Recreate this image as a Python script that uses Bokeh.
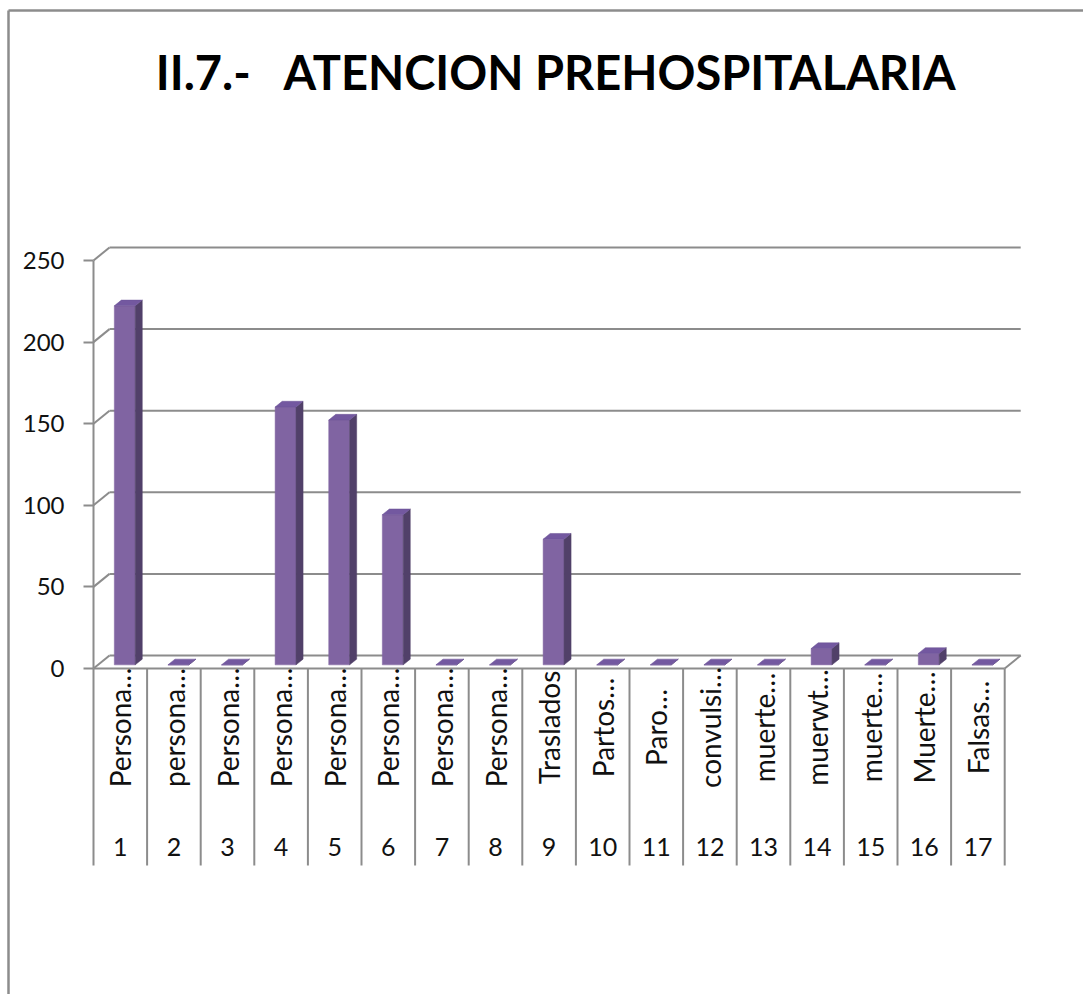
import numpy as np
from bokeh.plotting import figure
from bokeh.models import Range1d, FixedTicker
from bokeh.core.properties import value
from bokeh.embed import file_html
from bokeh.resources import INLINE

# ---------------- data ----------------
title_text = "II.7.-  ATENCION PREHOSPITALARIA"
category_names = ["Persona…", "persona…", "Persona…", "Persona…", "Persona…",
                  "Persona…", "Persona…", "Persona…", "Traslados", "Partos…",
                  "Paro…", "convulsi…", "muerte…", "muerwt…", "muerte…",
                  "Muerte…", "Falsas…"]
category_numbers = ["1", "2", "3", "4", "5", "6", "7", "8", "9", "10",
                    "11", "12", "13", "14", "15", "16", "17"]
values = [220, 0, 0, 158, 150, 92, 0, 0, 77, 0, 0, 0, 0, 10, 0, 7, 0]
y_ticks = [0, 50, 100, 150, 200, 250]

# ---------------- layout (pixels) ----------------
FIG_W, FIG_H = 1083, 994
PX_X = 53.6          # px per category
PX_Y = 1.632         # px per value unit
X0_PAGE = 93         # page x of category boundary 0.5
Y0_PAGE = 668        # page y of value 0 (front)

def xd(px):
    return 0.5 + (px - X0_PAGE) / PX_X

def yd(py):
    return (Y0_PAGE - py) / PX_Y

GRID = "#8c8c8c"
FRONT = "#8064A2"
TOP = "#7358A0"
SIDE = "#514069"
FONT = "Lato"

# depth of the 3D box
DX = 16 / PX_X
DY = 13 / PX_Y
T0, T1 = 0.28, 0.72   # bar depth span (fraction of box depth)
BAR_W = 0.39

n = len(values)
x_lo, x_hi = 0.5, n + 0.5
ymax = max(y_ticks)

p = figure(width=FIG_W, height=FIG_H, output_backend="svg", toolbar_location=None,
           x_axis_type=None,
           x_range=Range1d(xd(0), xd(FIG_W)),
           y_range=Range1d(yd(FIG_H), yd(0)),
           min_border_left=0, min_border_right=0, min_border_top=0,
           min_border_bottom=0)
p.outline_line_color = None
p.grid.visible = False
p.background_fill_color = "white"
p.border_fill_color = "white"

# y axis, drawn inside the frame at the front-left edge of the 3D box
ya = p.yaxis[0]
ya.fixed_location = x_lo
ya.ticker = FixedTicker(ticks=y_ticks)
ya.axis_line_color = None
ya.major_tick_out = 10
ya.major_tick_in = 0
ya.minor_tick_out = 0
ya.minor_tick_in = 0
ya.major_tick_line_color = GRID
ya.major_tick_line_width = 2
ya.major_label_text_font = FONT
ya.major_label_text_font_size = "24px"
ya.major_label_text_color = "#111111"
ya.major_label_standoff = 19

# chart border (left and top)
p.segment(x0=[xd(8), xd(8)], y0=[yd(10), yd(10)],
          x1=[xd(8), xd(FIG_W + 20)], y1=[yd(FIG_H + 20), yd(10)],
          line_color=GRID, line_width=2.5)

# back wall gridlines and left wall diagonals
p.segment(x0=[x_lo + DX] * len(y_ticks), y0=[t + DY for t in y_ticks],
          x1=[x_hi + DX] * len(y_ticks), y1=[t + DY for t in y_ticks],
          line_color=GRID, line_width=2)
p.segment(x0=[x_lo] * len(y_ticks), y0=y_ticks,
          x1=[x_lo + DX] * len(y_ticks), y1=[t + DY for t in y_ticks],
          line_color=GRID, line_width=2)
# floor front edge, right edge, front axis line
p.segment(x0=[x_lo, x_hi, x_lo], y0=[0, 0, 0],
          x1=[x_hi, x_hi + DX, x_lo], y1=[0, DY, ymax],
          line_color=GRID, line_width=2)

# category separators (label table)
sep_x = [x_lo + k for k in range(n + 1)]
p.segment(x0=sep_x, y0=[0] * len(sep_x), x1=sep_x, y1=[yd(865)] * len(sep_x),
          line_color=GRID, line_width=2)

# bars (3D)
xs = np.arange(1, n + 1)
v = np.array(values, dtype=float)
left = xs - BAR_W / 2 + T0 * DX
right = left + BAR_W
ddx = (T1 - T0) * DX
b0 = T0 * DY
b1 = T1 * DY

side_xs = [[r, r + ddx, r + ddx, r] for r in right]
side_ys = [[b0, b1, val + b1, val + b0] for val in v]
top_xs = [[l, r, r + ddx, l + ddx] for l, r in zip(left, right)]
top_ys = [[val + b0, val + b0, val + b1, val + b1] for val in v]

p.quad(left=left, right=right, bottom=b0, top=v + b0,
       fill_color=FRONT, line_color=FRONT, line_width=0.5)
p.patches(side_xs, side_ys, fill_color=SIDE, line_color=SIDE, line_width=0.5)
p.patches(top_xs, top_ys, fill_color=TOP, line_color="#6a5294", line_width=0.5)

# category labels
p.text(x=xs, y=[yd(727)] * n, text=category_names, angle=np.pi / 2,
       text_align="center", text_baseline="middle",
       text_font=value(FONT), text_font_size="28px", text_color="#111111")
p.text(x=xs, y=[yd(846)] * n, text=category_numbers,
       text_align="center", text_baseline="middle",
       text_font=value(FONT), text_font_size="25px", text_color="#111111")

# title (keep the double space visible in SVG)
p.text(x=[xd(556)], y=[yd(71)], text=[title_text.replace("  ", "\u00a0\u00a0 ")],
       text_align="center", text_baseline="alphabetic",
       text_font=value(FONT), text_font_style="bold",
       text_font_size="47px", text_color="#000000")

open("out.html", "w").write(file_html(p, INLINE))
